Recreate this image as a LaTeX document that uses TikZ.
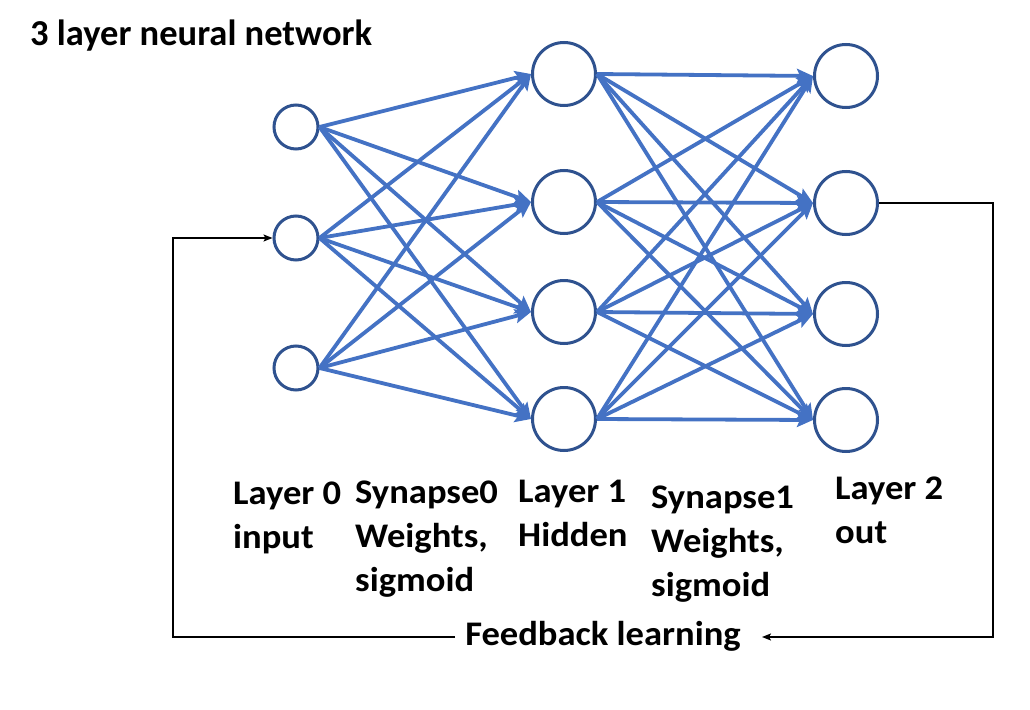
\documentclass[tikz,border=0pt]{standalone}
\usepackage{fontspec}
\setmainfont{Carlito}
\newfontfamily\labfont{Carlito}[FakeStretch=1.06]
\usetikzlibrary{arrows.meta}
\definecolor{edgeblue}{HTML}{4472C4}
\definecolor{ringblue}{HTML}{2F528F}
\begin{document}
\begin{tikzpicture}[x=1pt,y=-1pt,
  neuronS/.style={circle,draw=ringblue,line width=3pt,fill=white,minimum size=44pt,inner sep=0pt},
  neuronL/.style={circle,draw=ringblue,line width=3pt,fill=white,minimum size=63pt,inner sep=0pt},
  synapse/.style={draw=edgeblue,line width=3.8pt,-{Stealth[length=16pt,width=14pt,inset=3pt]}},
  fbline/.style={draw=black,line width=1.6pt},
  fbarrow/.style={fbline,-{Stealth[length=9pt,width=7pt,inset=2pt]}},
  lab/.style={anchor=north west,inner sep=0pt,align=left,font=\labfont\bfseries\fontsize{34.5}{44}\selectfont},
  ttl/.style={anchor=west,inner sep=0pt,font=\bfseries\fontsize{36.5}{42}\selectfont}]
\useasboundingbox (0,0) rectangle (1030,709);
\fill[white] (0,0) rectangle (1030,709);

\node[ttl] (title) at (30,36) {3 layer neural network};

% layer 0
\node[neuronS] (i1) at (296,127) {};
\node[neuronS] (i2) at (296,238) {};
\node[neuronS] (i3) at (296,368) {};
% layer 1
\node[neuronL] (h1) at (564,74) {};
\node[neuronL] (h2) at (564,202) {};
\node[neuronL] (h3) at (564,312) {};
\node[neuronL] (h4) at (564,419) {};
% layer 2
\node[neuronL] (o1) at (846,76) {};
\node[neuronL] (o2) at (846,203) {};
\node[neuronL] (o3) at (846,314) {};
\node[neuronL] (o4) at (846,420) {};

\foreach \a in {i1,i2,i3}{
  \foreach \b in {h1,h2,h3,h4}{
    \draw[synapse] (\a.east) -- (\b.west);
  }
}
\foreach \a in {h1,h2,h3,h4}{
  \foreach \b in {o1,o2,o3,o4}{
    \draw[synapse] (\a.east) -- (\b.west);
  }
}

% labels
\node[lab] (l0) at (233,482) {Layer 0\\input};
\node[lab] (s0) at (355,481) {Synapse0\\Weights,\\sigmoid};
\node[lab] (l1) at (518,480) {Layer 1\\Hidden};
\node[lab] (s1) at (651,486) {Synapse1\\Weights,\\sigmoid};
\node[lab] (l2) at (835,477) {Layer 2\\out};

% feedback
\node[lab,anchor=north] (fb) at (603,621) {Feedback learning};
\coordinate (rA) at (993,203);
\coordinate (rB) at (993,637);
\coordinate (fbR) at (762,637);
\coordinate (fbL) at (455,637);
\coordinate (lB) at (173,637);
\coordinate (lA) at (173,238);
\draw[fbarrow] (o2.east) -- (rA) -- (rB) -- (fbR);
\draw[fbarrow] (fbL) -- (lB) -- (lA) -- (i2.west);
\end{tikzpicture}
\end{document}
